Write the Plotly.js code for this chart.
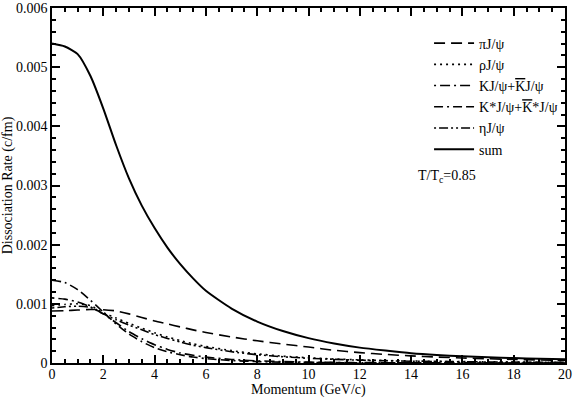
<!DOCTYPE html>
<html>
<head>
<meta charset="utf-8">
<script src="https://cdn.plot.ly/plotly-3.0.1.min.js"></script>
<style>
  html, body { margin: 0; padding: 0; background: #fff; }
  #chart { width: 574px; height: 398px; }
</style>
</head>
<body>
<div id="chart"></div>
<script>
// Momentum grid (GeV/c)
const momentum = [0, 0.5, 1, 1.5, 2, 2.5, 3, 3.5, 4, 4.5, 5, 5.5, 6, 7, 8, 9, 10, 11, 12, 13, 14, 15, 16, 17, 18, 19, 20];

// Dissociation rates (c/fm)
const piRate   = [0.00088, 0.000885, 0.000895, 0.000905, 0.0009, 0.00088, 0.00083, 0.00077, 0.00071, 0.00066, 0.00061, 0.00056, 0.000515, 0.00044, 0.000375, 0.00032, 0.00027, 0.000215, 0.000175, 0.000145, 0.00012, 0.0001, 0.000085, 0.000072, 0.00006, 0.000051, 0.000043];
const rhoRate  = [0.00097, 0.00099, 0.001, 0.00097, 0.00085, 0.00076, 0.00067, 0.00059, 0.00051, 0.00044, 0.00038, 0.000325, 0.00028, 0.00021, 0.000155, 0.000115, 0.000088, 0.000068, 0.000053, 0.000042, 0.000034, 0.000028, 0.000023, 0.000019, 0.000016, 0.000013, 0.000011];
const kRate    = [0.0011, 0.00108, 0.00103, 0.00095, 0.00083, 0.00068, 0.00053, 0.00041, 0.00031, 0.00023, 0.00017, 0.00013, 0.0001, 0.00006, 0.000037, 0.000023, 0.000015, 0.00001, 0.000007, 0.000005, 0.000004, 0.000003, 0.000002, 0.000002, 0.000001, 0.000001, 0.000001];
const kStarRate = [0.0014, 0.00136, 0.00124, 0.00106, 0.00086, 0.00066, 0.00049, 0.00036, 0.00026, 0.00019, 0.00014, 0.0001, 0.000075, 0.000042, 0.000024, 0.000014, 0.000009, 0.000006, 0.000004, 0.000003, 0.000002, 0.000002, 0.000001, 0.000001, 0.000001, 0.0000005, 0.0000005];
const etaRate  = [0.00093, 0.00095, 0.00096, 0.00094, 0.00083, 0.00073, 0.00064, 0.00056, 0.00048, 0.000415, 0.000355, 0.0003, 0.00026, 0.00019, 0.00014, 0.000105, 0.00008, 0.000062, 0.000048, 0.000038, 0.00003, 0.000025, 0.00002, 0.000017, 0.000014, 0.000012, 0.00001];
const sumRate  = [0.0054, 0.00535, 0.00522, 0.00485, 0.0043, 0.00368, 0.00312, 0.00266, 0.00228, 0.00195, 0.00167, 0.00143, 0.00122, 0.00092, 0.0007, 0.00054, 0.00042, 0.00033, 0.00026, 0.00021, 0.000165, 0.000135, 0.000115, 0.000097, 0.000083, 0.000072, 0.000063];

const kBar = '<span style="text-decoration:overline">K</span>';
const seriesNames = ['\u03C0J/\u03C8', '\u03C1J/\u03C8', 'KJ/\u03C8+' + kBar + 'J/\u03C8', 'K*J/\u03C8+' + kBar + '*J/\u03C8', '\u03B7J/\u03C8', 'sum'];

const serif = 'Liberation Serif';

function line(y, name, dash, width) {
    return {
        x: momentum,
        y: y,
        name: name,
        type: 'scatter',
        mode: 'lines',
        line: { color: '#000', width: width, dash: dash, shape: 'spline', smoothing: 0.6 }
    };
}

const traces = [
    line(piRate, seriesNames[0], '11px,6px', 1.6),
    line(rhoRate, seriesNames[1], '2px,4px', 1.6),
    line(kRate, seriesNames[2], '2px,4px,10px,4px', 1.6),
    line(kStarRate, seriesNames[3], '9px,4px,2px,4px,9px,4px', 1.6),
    line(etaRate, seriesNames[4], '2px,3px,9px,3px,2px,3px', 1.6),
    line(sumRate, seriesNames[5], 'solid', 2)
];

const layout = {
    width: 574,
    height: 398,
    margin: { l: 52, r: 9, t: 8, b: 35 },
    paper_bgcolor: 'white',
    plot_bgcolor: 'white',
    font: { family: serif, size: 14, color: 'black' },
    showlegend: true,
    legend: {
        x: 0.735, y: 0.945, xanchor: 'left', yanchor: 'top',
        bgcolor: 'rgba(0,0,0,0)',
        font: { family: serif, size: 14, color: 'black' },
        itemwidth: 40,
        tracegroupgap: 0
    },
    xaxis: {
        range: [0, 20],
        dtick: 2,
        ticks: 'inside',
        ticklen: 8,
        tickwidth: 1.5,
        tickcolor: 'black',
        minor: { ticks: 'inside', dtick: 0.5, ticklen: 4, tickwidth: 1.5, tickcolor: 'black' },
        mirror: 'ticks',
        showline: true,
        linecolor: 'black',
        linewidth: 1.5,
        showgrid: false,
        zeroline: false,
        layer: 'above traces',
        tickfont: { family: serif, size: 14, color: 'black' },
        ticklabelstandoff: -3
    },
    yaxis: {
        range: [0, 0.006],
        dtick: 0.001,
        ticks: 'inside',
        ticklen: 8,
        tickwidth: 1.5,
        tickcolor: 'black',
        minor: { ticks: 'inside', dtick: 0.0002, ticklen: 4, tickwidth: 1.5, tickcolor: 'black' },
        mirror: 'ticks',
        showline: true,
        linecolor: 'black',
        linewidth: 1.5,
        showgrid: false,
        zeroline: false,
        layer: 'above traces',
        tickfont: { family: serif, size: 14, color: 'black' },
        title: { text: 'Dissociation Rate (c/fm)', standoff: 2, font: { family: serif, size: 14, color: 'black' } }
    },
    annotations: [
        {
            xref: 'paper', yref: 'paper',
            x: 0.71, y: 0.525, xanchor: 'left', yanchor: 'middle',
            text: 'T/T<sub>c</sub>=0.85',
            showarrow: false,
            font: { family: serif, size: 14, color: 'black' }
        },
        {
            xref: 'paper', yref: 'paper',
            x: 0.5, y: -0.076, xanchor: 'center', yanchor: 'middle',
            text: 'Momentum (GeV/c)',
            showarrow: false,
            font: { family: serif, size: 14, color: 'black' }
        }
    ]
};

Plotly.newPlot('chart', traces, layout, { displayModeBar: false });
</script>
</body>
</html>
